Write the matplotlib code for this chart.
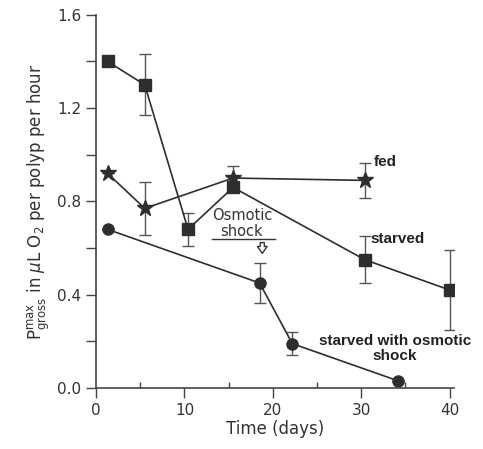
import matplotlib
matplotlib.use("Agg")
import matplotlib.pyplot as plt
from matplotlib.ticker import MultipleLocator

# Data
fed_x = [1.3, 5.5, 15.5, 30.4]
fed_y = [0.92, 0.77, 0.90, 0.89]
fed_err = [0.0, 0.115, 0.05, 0.075]

starved_x = [1.3, 5.5, 10.4, 15.5, 30.4, 40.0]
starved_y = [1.40, 1.30, 0.68, 0.86, 0.55, 0.42]
starved_err = [0.0, 0.13, 0.07, 0.0, 0.10, 0.17]

shock_x = [1.3, 18.5, 22.2, 34.2]
shock_y = [0.68, 0.45, 0.19, 0.03]
shock_err = [0.0, 0.085, 0.05, 0.0]

xticks = [0, 10, 20, 30, 40]
yticks = [0.0, 0.4, 0.8, 1.2, 1.6]

col = "#2e2e2e"
fig = plt.figure(figsize=(4.83, 4.49), dpi=100)
ax = fig.add_axes([0.199, 0.136, 0.741, 0.831])

ekw = dict(color=col, lw=1.2, ecolor="#555555", elinewidth=1.0, capsize=4.5, capthick=1.0)
ax.errorbar(starved_x, starved_y, yerr=starved_err, marker="s", ms=9, mfc=col, mec=col, **ekw)
ax.errorbar(shock_x, shock_y, yerr=shock_err, marker="o", ms=8, mfc=col, mec=col, **ekw)
ax.errorbar(fed_x, fed_y, yerr=fed_err, marker="*", ms=12, mfc=col, mec=col, **ekw)

ax.set_xlim(0, 40.5)
ax.set_ylim(0, 1.6)
ax.set_xticks(xticks)
ax.set_yticks(yticks)
ax.set_yticklabels([f"{v:.1f}" for v in yticks])
ax.xaxis.set_minor_locator(MultipleLocator(5))
ax.yaxis.set_minor_locator(MultipleLocator(0.2))
for s in ["top", "right"]:
    ax.spines[s].set_visible(False)
for s in ["left", "bottom"]:
    ax.spines[s].set_color("#444444")
    ax.spines[s].set_linewidth(1.2)
ax.tick_params(axis="both", which="major", direction="out", length=7, width=1.0,
               colors="#444444", labelsize=11, labelcolor="#333333")
ax.tick_params(axis="y", which="minor", direction="out", length=7, width=1.0, colors="#444444")
ax.tick_params(axis="x", which="minor", direction="in", length=4, width=1.0, colors="#444444")

ax.set_xlabel("Time (days)", fontsize=12, color="#333333", labelpad=2)
ax.set_ylabel(r"$\mathrm{P}_{\mathrm{gross}}^{\mathrm{max}}$ in $\mu$L O$_2$ per polyp per hour",
              fontsize=12, color="#333333", labelpad=4)

bold = dict(fontsize=11, fontweight="bold", family="Liberation Sans", color="#222222")
ax.text(31.4, 0.97, "fed", ha="left", va="center", **bold)
ax.text(31.0, 0.64, "starved", ha="left", va="center", **bold)
ax.text(33.8, 0.17, "starved with osmotic\nshock", ha="center", va="center",
        linespacing=1.1, **bold)

ax.text(16.5, 0.74, "Osmotic", ha="center", va="center", fontsize=10.5, color="#333333")
ax.text(16.5, 0.672, "shock", ha="center", va="center", fontsize=10.5, color="#333333")
ax.plot([13.1, 20.2], [0.64, 0.64], color="#333333", lw=1.0)
ax.annotate("", xy=(18.8, 0.565), xytext=(18.8, 0.635),
            arrowprops=dict(arrowstyle="simple,head_width=0.7,head_length=0.5,tail_width=0.3",
                            fc="white", ec="#333333", lw=1.0))

fig.savefig("out.png", dpi=100)
